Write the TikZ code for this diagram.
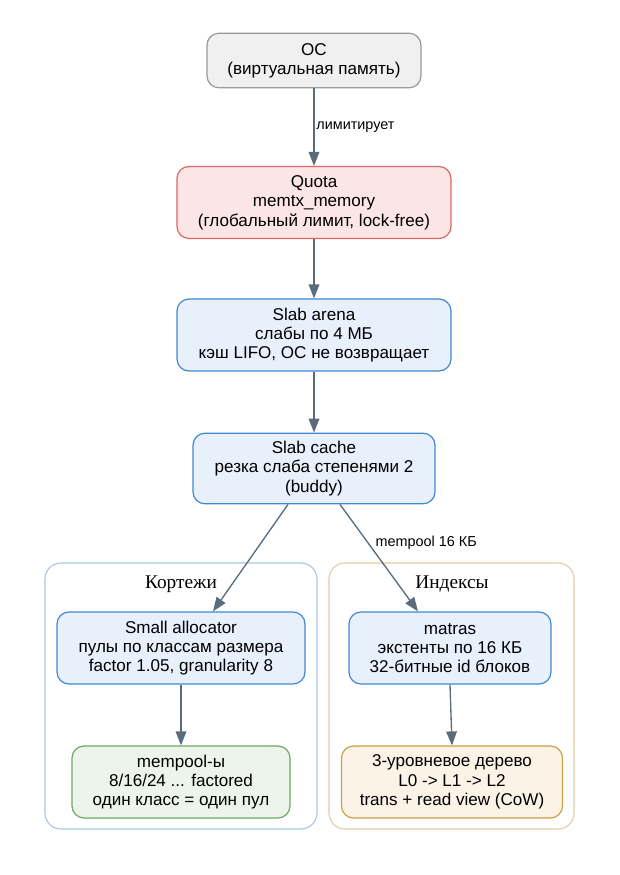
\documentclass[tikz,border=0pt]{standalone}
\usepackage{fontspec}
\setmainfont{Liberation Sans}
\newfontfamily\clusterfont{Liberation Serif}
\usepackage{tikz}
\usetikzlibrary{arrows.meta,calc}
\definecolor{kenarGri}{HTML}{5B6B7A}
\definecolor{osDolgu}{HTML}{F0F0F0}
\definecolor{osCizgi}{HTML}{999999}
\definecolor{kotaDolgu}{HTML}{FCE5E5}
\definecolor{kotaCizgi}{HTML}{DD6666}
\definecolor{maviDolgu}{HTML}{E8F0FC}
\definecolor{maviCizgi}{HTML}{4087D6}
\definecolor{yesilDolgu}{HTML}{EDF5EA}
\definecolor{yesilCizgi}{HTML}{6AAA64}
\definecolor{turuncuDolgu}{HTML}{FBF3E6}
\definecolor{turuncuCizgi}{HTML}{C9A043}
\definecolor{kumeMavi}{HTML}{A8C4E4}
\definecolor{kumeTen}{HTML}{E2CDA2}

\begin{document}
\begin{tikzpicture}[x=0.75pt,y=-0.75pt,
  kutu/.style={draw,rounded corners=9pt,line width=0.9pt,align=center,
    font=\fontsize{12.8}{14.5}\selectfont,inner sep=0pt,minimum height=54pt},
  kume/.style={draw,rounded corners=12pt,line width=0.8pt},
  kenar/.style={kenarGri,line width=1pt,-{Triangle[length=10.5pt,width=8pt]}},
  etiket/.style={font=\fontsize{10.8}{12}\selectfont,text=black}]
\useasboundingbox (0,0) rectangle (619,875);
% kümeler
\draw[kume,kumeMavi] (45,563) rectangle (317,829);
\draw[kume,kumeTen] (329,563) rectangle (574,829);
\node[font=\clusterfont\fontsize{14.5}{16}\selectfont] (lblTuple) at (181,584) {Кортежи};
\node[font=\clusterfont\fontsize{14.5}{16}\selectfont] (lblIndex) at (452,584) {Индексы};
% düğümler
\node[kutu,fill=osDolgu,draw=osCizgi,minimum width=160.5pt,minimum height=41pt] (os) at (314,60.5)
  {ОС\\(виртуальная память)};
\node[kutu,fill=kotaDolgu,draw=kotaCizgi,minimum width=205.5pt] (quota) at (314,202.5)
  {Quota\\memtx\_memory\\(глобальный лимит, lock-free)};
\node[kutu,fill=maviDolgu,draw=maviCizgi,minimum width=205.5pt] (arena) at (314,335)
  {Slab arena\\слабы по 4 МБ\\кэш LIFO, ОС не возвращает};
\node[kutu,fill=maviDolgu,draw=maviCizgi,minimum width=181.5pt,minimum height=53pt] (cache) at (314,468.5)
  {Slab cache\\резка слаба степенями 2\\(buddy)};
\node[kutu,fill=maviDolgu,draw=maviCizgi,minimum width=186pt] (small) at (181,648)
  {Small allocator\\пулы по классам размера\\factor 1.05, granularity 8};
\node[kutu,fill=yesilDolgu,draw=yesilCizgi,minimum width=163.5pt] (mempool) at (181,782)
  {mempool-ы\\8/16/24 ... factored\\один класс = один пул};
\node[kutu,fill=maviDolgu,draw=maviCizgi,minimum width=151.5pt] (matras) at (450,648)
  {matras\\экстенты по 16 КБ\\32-битные id блоков};
\node[kutu,fill=turuncuDolgu,draw=turuncuCizgi,minimum width=165.75pt] (tree) at (452,782)
  {3-уровневое дерево\\L0 -> L1 -> L2\\trans + read view (CoW)};
% bağlantılar
\draw[kenar] (os) -- node[etiket,right,xshift=-2pt] {лимитирует} (quota);
\draw[kenar] (quota) -- (arena);
\draw[kenar] (arena) -- (cache);
\draw[kenar] ($(cache.south)+(-26,0)$) -- ($(small.north)+(32,0)$);
\draw[kenar] ($(cache.south)+(26,0)$) -- ($(matras.north)+(-32,0)$);
\node[etiket,anchor=west] (lblMempool) at (371,543) {mempool 16 КБ};
\draw[kenar] (small) -- (mempool);
\draw[kenar] (matras.south) -- (tree.north);
\end{tikzpicture}
\end{document}
